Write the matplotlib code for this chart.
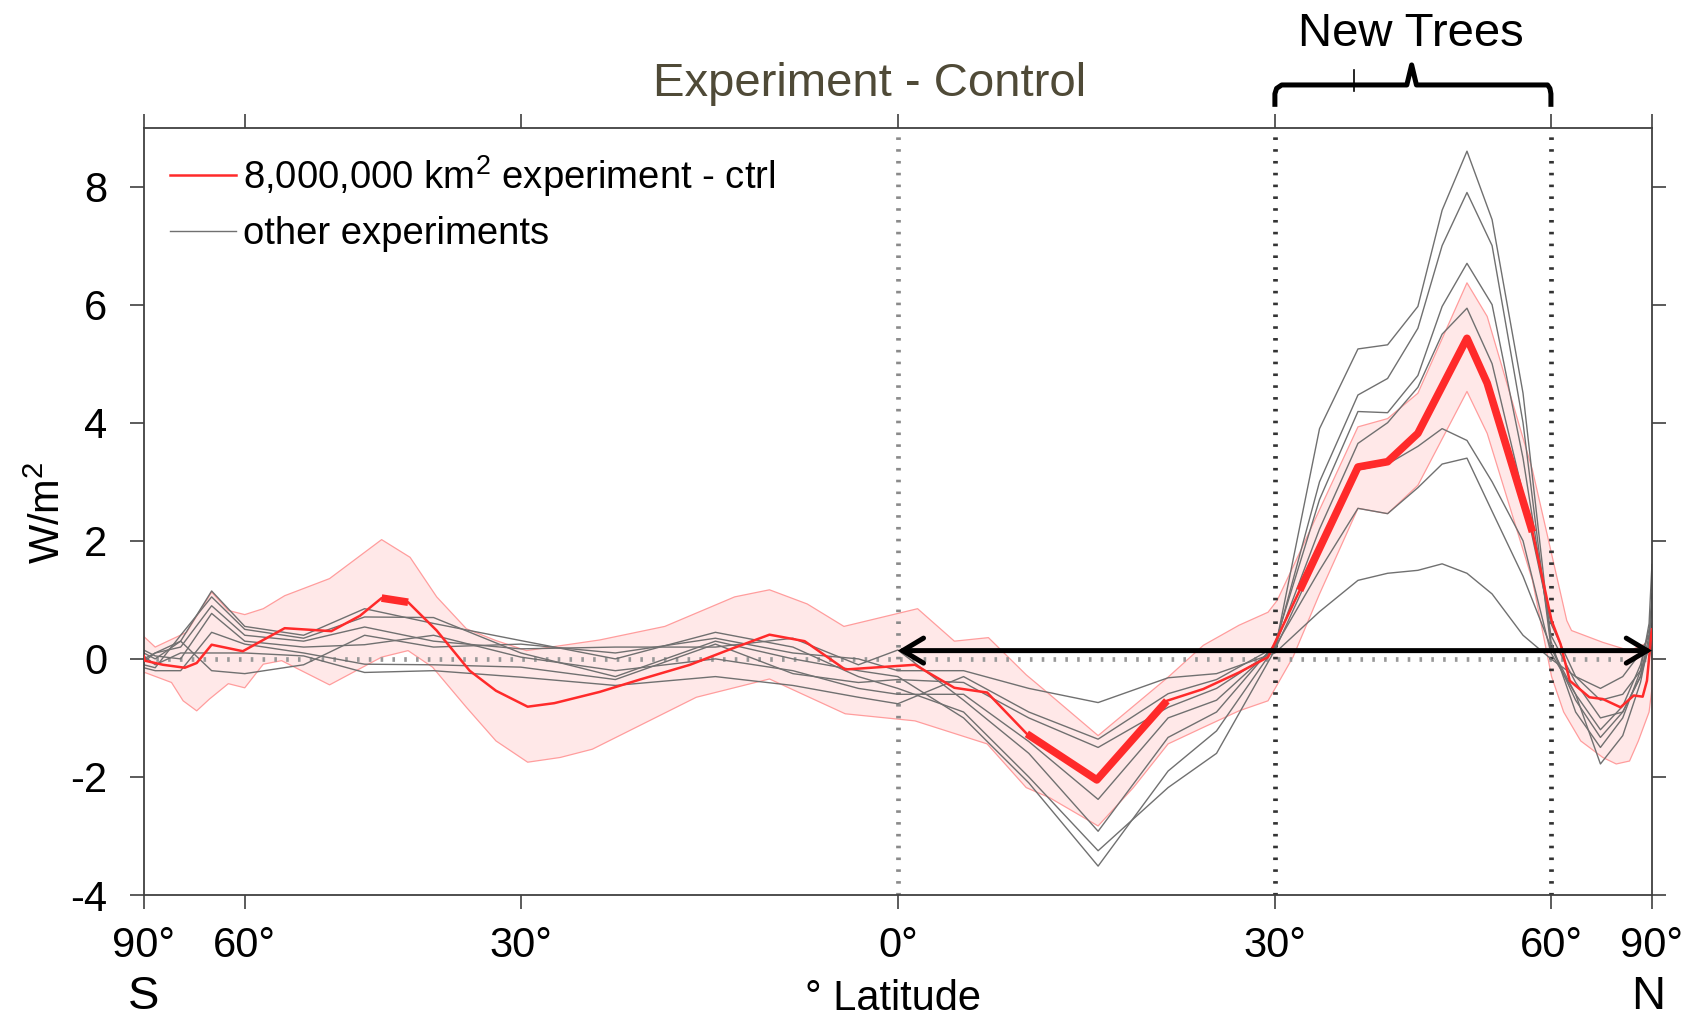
import matplotlib
matplotlib.use('Agg')
import matplotlib.pyplot as plt
import matplotlib.transforms as mtransforms
from matplotlib.lines import Line2D
import numpy as np

plt.rcParams['font.family'] = ['Liberation Sans', 'DejaVu Sans']
plt.rcParams['axes.unicode_minus'] = False
plt.rcParams['mathtext.fontset'] = 'custom'
plt.rcParams['mathtext.rm'] = 'Liberation Sans'
plt.rcParams['mathtext.default'] = 'regular'

# 8,000,000 km2 experiment minus control (W/m2), by latitude
red_lat = [-90, -87, -77, -71, -68.4, -65.5, -60.3, -54.4, -48.7, -45.5, -43.2, -40.5, -37.7, -34.6, -32.2,
           -29.4, -27.1, -23.3, -20, -16, -13, -9.8, -7.1, -4.0, 1.3, 4.3, 6.8, 9.85, 15.3, 20.9,
           23.9, 26.9, 29.4, 32.2, 37.6, 40.5, 43.6, 49.0, 51.4, 57.3, 60.1, 61.5, 63.0, 66.5, 69.2,
           73.4, 77.4, 81.0, 83.4, 88.1, 90]
red_val = [0.05, -0.03, -0.1, -0.15, -0.07, 0.24, 0.13, 0.52, 0.47, 0.73, 1.03, 0.96, 0.48, -0.2, -0.54,
           -0.81, -0.75, -0.56, -0.35, -0.1, 0.15, 0.41, 0.30, -0.18, -0.1, -0.49, -0.57, -1.27, -2.05, -0.71,
           -0.51, -0.23, 0.03, 1.16, 3.25, 3.34, 3.82, 5.43, 4.67, 2.15, 0.65, 0.25, -0.37, -0.65, -0.68,
           -0.82, -0.62, -0.64, -0.37, 0.46, 0.5]
# latitude ranges where the red curve is drawn bold
red_bold = [(-43.2, -40.5), (9.85, 20.9), (32.2, 57.3)]

# spread (shaded band) of the red experiment
up_lat = [-90, -80, -70.6, -65.5, -62.6, -60, -57.3, -54.4, -48.9, -43.2, -40.3, -37.7, -34.9, -32.2, -29.5,
          -23.3, -18, -12.5, -9.8, -6.9, -4.1, 1.5, 4.3, 6.9, 9.8, 11.6, 15.4, 21, 23.9, 26.9,
          29.4, 30.2, 32.2, 37.6, 40.5, 43.6, 49, 51.4, 57.3, 60.1, 62.5, 63.3, 69.2, 76, 82, 86, 90]
up_val = [0.38, 0.2, 0.45, 1.13, 0.82, 0.75, 0.85, 1.07, 1.36, 2.02, 1.72, 1.05, 0.51, 0.31, 0.14,
          0.32, 0.55, 1.05, 1.17, 0.93, 0.55, 0.85, 0.30, 0.36, -0.27, -0.6, -1.30, -0.31, 0.23, 0.57,
          0.79, 0.99, 1.8, 3.93, 4.07, 4.50, 6.37, 5.80, 3.20, 1.78, 0.65, 0.48, 0.28, 0.14, 0.25, 0.3, 0.45]
lo_lat = [-90, -87, -74.4, -71.4, -68.4, -65.9, -62.6, -60, -57.3, -54.8, -48.9, -43.2, -40.5, -38.1, -34.9,
          -32.2, -29.4, -26.6, -23.9, -15.5, -9.8, -4.0, 1.3, 6.8, 9.8, 11.6, 15.4, 18.2, 21, 23.9,
          26.9, 29.4, 31.6, 34, 37.6, 40.5, 43.6, 49, 51.4, 57.3, 60.1, 62, 64.9, 69.2, 72.3, 76, 79.1, 85, 90]
lo_val = [-0.25, -0.23, -0.40, -0.71, -0.88, -0.68, -0.42, -0.49, -0.09, -0.03, -0.44, 0.03, 0.14, -0.14, -0.82,
          -1.39, -1.75, -1.67, -1.53, -0.65, -0.34, -0.93, -1.05, -1.44, -2.18, -2.35, -2.83, -2.18, -1.44, -1.16,
          -0.88, -0.71, 0.03, 1.1, 2.55, 2.46, 2.94, 4.53, 3.82, 1.33, -0.3, -0.9, -1.39, -1.67, -1.78, -1.73, -1.39, -0.9, -0.5]

# other experiments
gray_lat = [-90, -80, -72, -65.5, -60, -52, -45, -38, -30, -22, -14, -8, -3, 0, 5, 10, 15.4, 21, 25, 30,
            34, 37.6, 40.5, 43.6, 46.2, 49, 52, 56, 60, 64, 68.7, 74, 80, 85, 90]
exp_a = [0.1, 0.0, 0.3, 1.15, 0.55, 0.4, 0.85, 0.6, 0.31, 0.0, 0.45, 0.2, -0.3, -0.5, -0.9, -2.0, -3.25, -2.18, -1.6, 0.15,
         3.9, 5.25, 5.32, 5.97, 7.6, 8.6, 7.44, 4.5, 0.3, -0.9, -1.5, -1.0, -0.2, 0.6, 1.6]
exp_b = [-0.1, -0.15, 0.4, 1.05, 0.5, 0.35, 0.71, 0.7, 0.1, -0.3, 0.3, 0.0, -0.2, -0.3, -1.0, -2.1, -3.51, -1.9, -1.22, 0.2,
         3.0, 4.47, 4.75, 5.6, 7.0, 7.9, 7.0, 4.0, 0.2, -0.6, -1.78, -1.3, -0.4, 0.3, 0.9]
exp_c = [0.0, 0.1, 0.2, 0.9, 0.4, 0.3, 0.54, 0.3, 0.17, 0.2, 0.2, 0.35, -0.1, 0.15, -0.7, -1.6, -2.92, -1.33, -0.9, 0.25,
         2.7, 4.19, 4.17, 4.8, 5.97, 6.7, 6.0, 3.4, 0.4, -0.4, -1.0, -0.9, -0.3, 0.4, 1.1]
exp_d = [0.15, 0.05, 0.0, 0.77, 0.3, 0.2, 0.24, 0.4, 0.03, -0.2, 0.0, -0.2, -0.5, -0.6, -0.6, -1.4, -2.38, -1.0, -0.7, 0.2,
         2.2, 3.65, 4.0, 4.6, 5.5, 5.94, 5.0, 2.8, 0.6, -0.3, -0.7, -0.6, -0.2, 0.2, 0.5]
exp_e = [-0.15, -0.2, -0.2, 0.45, 0.25, 0.1, -0.09, -0.1, -0.14, -0.35, 0.25, -0.25, -0.4, -0.35, -0.4, -1.0, -1.5, -0.82, -0.5, 0.15,
         1.8, 3.2, 3.3, 3.6, 3.9, 3.7, 3.0, 2.0, 0.1, -0.6, -1.2, -0.8, -0.1, 0.5, 0.3]
exp_f = [0.05, -0.1, 0.1, 0.1, 0.1, 0.05, -0.23, -0.2, -0.31, -0.45, -0.3, -0.45, -0.65, -0.76, -0.3, -0.9, -1.36, -0.59, -0.35, 0.2,
         1.5, 2.55, 2.46, 2.9, 3.3, 3.4, 2.5, 1.4, 0.2, -0.7, -1.33, -0.9, -0.3, 0.2, 0.6]
exp_g = [-0.05, 0.1, 0.3, -0.2, -0.25, -0.1, 0.4, 0.2, 0.25, 0.1, 0.35, 0.1, 0.0, -0.2, -0.2, -0.5, -0.74, -0.32, -0.25, 0.1,
         0.8, 1.33, 1.45, 1.5, 1.61, 1.45, 1.1, 0.4, 0.0, -0.3, -0.5, -0.3, 0.1, 0.4, 0.0]
others = [exp_a, exp_b, exp_c, exp_d, exp_e, exp_f, exp_g]

x_ticks = [-90, -60, -30, 0, 30, 60, 90]
x_labels = ['90°', '60°', '30°', '0°', '30°', '60°', '90°']
y_ticks = [-4, -2, 0, 2, 4, 6, 8]

RED = '#ff2a2a'
GRAY = '#707070'
DOTS = (0, (0.55, 1.95))


def sin_lat(x):
    return np.sin(np.radians(np.clip(x, -90, 90)))


def inv_sin_lat(y):
    return np.degrees(np.arcsin(np.clip(y, -1, 1)))


fig = plt.figure(figsize=(16.95, 10.18), dpi=100)
ax = fig.add_axes([0.0848, 0.1208, 0.8898, 0.7539])
ax.set_xscale('function', functions=(sin_lat, inv_sin_lat))
ax.set_xlim(-90, 90)
ax.set_ylim(-4, 9)

# shaded spread
ax.fill(np.concatenate([up_lat, lo_lat[::-1]]), np.concatenate([up_val, lo_val[::-1]]),
        facecolor='#ffe8e8', edgecolor='none', zorder=1)
ax.plot(up_lat, up_val, color='#ff9d9d', lw=0.9, zorder=1.2)
ax.plot(lo_lat, lo_val, color='#ff9d9d', lw=0.9, zorder=1.2)

# reference lines
ax.axhline(0, color='#999999', lw=3.4, ls=DOTS, zorder=1.5)
ax.axvline(0, color='#8a8a8a', lw=3.4, ls=DOTS, zorder=1.5)
for lat in (30, 60):
    ax.axvline(lat, color='#333333', lw=3.4, ls=DOTS, zorder=1.5)

for vals in others:
    ax.plot(gray_lat, vals, color=GRAY, lw=1.0, zorder=2)

ax.plot(red_lat, red_val, color=RED, lw=1.8, zorder=4, solid_joinstyle='round')
red_lat_arr = np.array(red_lat)
for a, b in red_bold:
    m = (red_lat_arr >= a) & (red_lat_arr <= b)
    ax.plot(red_lat_arr[m], np.array(red_val)[m], color=RED, lw=5.5, zorder=4.5,
            solid_joinstyle='round', solid_capstyle='butt')

# arrow over the northern hemisphere
ax.annotate('', xy=(90, 0.14), xytext=(0, 0.14), annotation_clip=False, zorder=5,
            arrowprops=dict(arrowstyle='<->,head_length=0.5,head_width=0.3', lw=3.6, color='black',
                            shrinkA=0, shrinkB=0, mutation_scale=30, joinstyle='miter'))

# brace over the new trees band
trans = mtransforms.blended_transform_factory(ax.transData, ax.transAxes)
ax.plot([30, 30, 30.15, 30.6, 42.45, 42.95, 43.45, 59.5, 59.85, 60, 60],
        [1.027, 1.044, 1.051, 1.0555, 1.0555, 1.0816, 1.0555, 1.0555, 1.051, 1.044, 1.027],
        transform=trans, clip_on=False, color='black', lw=3.6, solid_joinstyle='round', solid_capstyle='butt')
ax.plot([37.2, 37.2], [1.047, 1.075], transform=trans, clip_on=False, color='black', lw=1.2)

ax.set_xticks(x_ticks)
ax.set_xticklabels(x_labels)
ax.set_yticks(y_ticks)
ax.minorticks_off()
ax.tick_params(direction='out', length=10, width=1.2, color='#404040', top=True, right=True, labelsize=30)
ax.tick_params(axis='x', pad=12)
ax.tick_params(axis='y', pad=16)
for s in ax.spines.values():
    s.set_color('#404040')
    s.set_linewidth(1.3)

handles = [Line2D([], [], color=RED, lw=1.8), Line2D([], [], color=GRAY, lw=1.0)]
ax.legend(handles, ['8,000,000 km$^{2}$ experiment - ctrl', 'other experiments'], loc='upper left',
          bbox_to_anchor=(0.0172, 0.967), borderaxespad=0, borderpad=0, frameon=False, fontsize=27.5,
          handlelength=1.74, handletextpad=0.19, labelspacing=0.46)

fig.text(0.5133, 0.917, 'Experiment - Control', ha='center', va='center', fontsize=34, color='#4f4a37')
fig.text(0.8324, 0.967, 'New Trees', ha='center', va='center', fontsize=34)
fig.text(0.0848, 0.009, 'S', ha='center', va='baseline', fontsize=34)
fig.text(0.9726, 0.009, 'N', ha='center', va='baseline', fontsize=34)
fig.text(0.527, 0.008, '° Latitude', ha='center', va='baseline', fontsize=30)
fig.text(0.0287, 0.496, 'W/m$^{2}$', rotation=90, ha='center', va='center', fontsize=30)

fig.savefig('out.png', dpi=100)
